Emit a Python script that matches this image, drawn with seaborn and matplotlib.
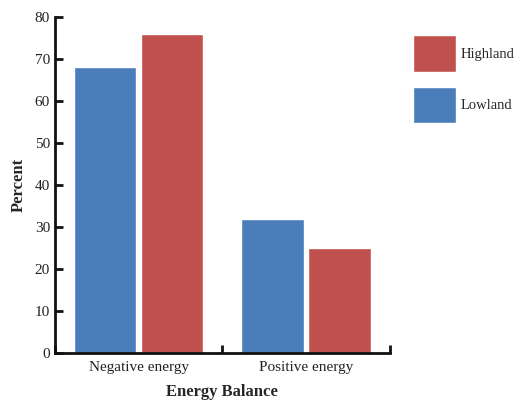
import numpy as np
import pandas as pd
import matplotlib
matplotlib.use("Agg")
import matplotlib.pyplot as plt
import seaborn as sns
from matplotlib.patches import Patch

# data
balance = ["Negative energy", "Positive energy"]
lowland = [68, 32]
highland = [76, 25]

df = pd.DataFrame({
    "Energy Balance": balance * 2,
    "Percent": lowland + highland,
    "Group": ["Lowland"] * 2 + ["Highland"] * 2,
})

sns.set_style("ticks")
plt.rcParams["font.family"] = ["Liberation Serif", "DejaVu Serif"]

fig = plt.figure(figsize=(5.22, 4.0), dpi=100)
ax = fig.add_axes([0.105, 0.1175, 0.642, 0.84])

pal = {"Lowland": "#4a7ebb", "Highland": "#c0504d"}
sns.barplot(data=df, x="Energy Balance", y="Percent", hue="Group",
            hue_order=["Lowland", "Highland"], palette=pal,
            width=0.8, gap=0.07, saturation=1, ax=ax, legend=False)

ax.set_xlim(-0.5, 1.5)
ax.set_ylim(0, 80)
ax.set_yticks(np.arange(0, 81, 10))
ax.set_xticks([-0.5, 0.5, 1.5], minor=True)
ax.tick_params(axis="x", which="major", length=0, labelsize=11, pad=6, colors="#222222")
ax.tick_params(axis="x", which="minor", direction="in", length=6, width=2, color="#111111")
ax.tick_params(axis="y", direction="in", length=6, width=2, labelsize=11, color="#111111", labelcolor="#222222")

for s in ["top", "right"]:
    ax.spines[s].set_visible(False)
for s in ["left", "bottom"]:
    ax.spines[s].set_linewidth(2)
    ax.spines[s].set_color("#111111")

ax.set_xlabel("Energy Balance", fontsize=12, fontweight="bold", labelpad=7)
ax.set_ylabel("Percent", fontsize=12, fontweight="bold", labelpad=6)

handles = [Patch(facecolor=pal["Highland"]), Patch(facecolor=pal["Lowland"])]
fig.legend(handles, ["Highland", "Lowland"], loc="upper left",
           bbox_to_anchor=(0.778, 0.93), frameon=False, fontsize=10.5,
           borderpad=0, handlelength=2.95, handleheight=3.5,
           labelspacing=1.0, handletextpad=0.3)

fig.savefig("out.png", dpi=100)
